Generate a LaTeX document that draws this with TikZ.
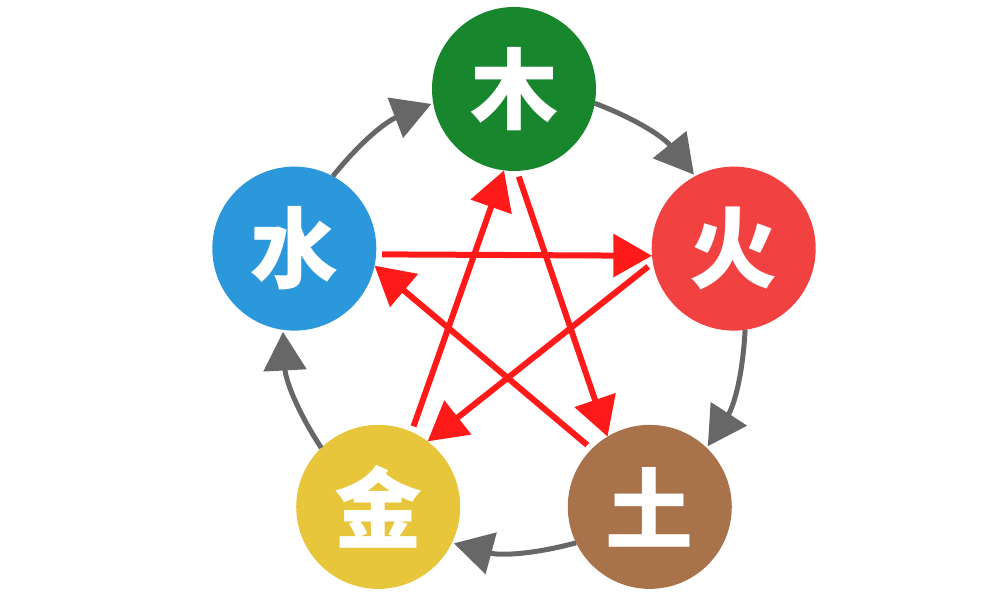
\documentclass[tikz,border=0pt]{standalone}
\usepackage{fontspec}
\newfontfamily\cjk{Noto Sans CJK SC}
\usetikzlibrary{arrows.meta, calc}
\definecolor{muColor}{HTML}{17862D}
\definecolor{huoColor}{HTML}{F24141}
\definecolor{tuColor}{HTML}{A8734A}
\definecolor{jinColor}{HTML}{E8C63C}
\definecolor{shuiColor}{HTML}{2B98DC}
\definecolor{cycleColor}{HTML}{676767}
\definecolor{controlColor}{HTML}{FF1A1A}

\tikzset{
    element/.style={circle, draw=none, minimum size=3.28cm, inner sep=0pt, outer sep=0pt,
        text=white, font=\cjk\bfseries\fontsize{50}{50}\selectfont},
    cycleArrow/.style={line width=0.1cm, cycleColor, -{Triangle[length=22pt,width=24pt]},
        shorten >=0.04cm},
    controlArrow/.style={line width=0.12cm, controlColor, -{Triangle[length=22pt,width=24pt]},
        shorten <=0.12cm},
}

\begin{document}
\begin{tikzpicture}
    \useasboundingbox (0,0) rectangle (20,12);
    \coordinate (O) at (10.28,5.6);
    % the five elements
    \foreach \name/\ang/\col/\txt in {mu/90/muColor/木, huo/18/huoColor/火,
            tu/-54/tuColor/土, jin/-126/jinColor/金, shui/162/shuiColor/水}
        \node[element, fill=\col] (\name) at ([shift={(\ang:4.62)}]O) {\txt};
    % generating cycle
    \draw[cycleArrow] (mu.-10) to[bend left=15] (huo.118);
    \draw[cycleArrow] (huo.-82) to[bend left=15] (tu.46);
    \draw[cycleArrow] (tu.-154) to[bend left=15] (jin.-26);
    \draw[cycleArrow] (jin.134) to[bend left=15] (shui.-98);
    \draw[cycleArrow] (shui.62) to[bend left=15] (mu.190);
    % controlling cycle
    \draw[controlArrow] (shui.-4) -- (huo.-175);
    \draw[controlArrow] (huo.-170) -- (jin.53);
    \draw[controlArrow] (jin.66) -- (mu.-97);
    \draw[controlArrow] (mu.-88) -- (tu.121);
    \draw[controlArrow] (tu.135) -- (shui.-12);
\end{tikzpicture}
\end{document}
